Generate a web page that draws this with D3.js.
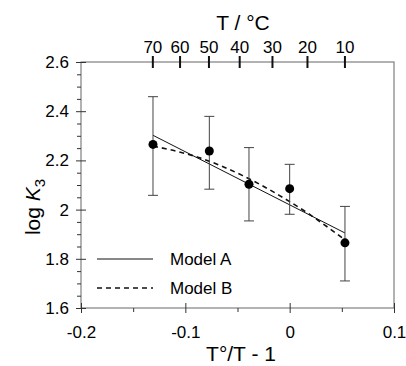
<!DOCTYPE html>
<html>
<head>
<meta charset="utf-8">
<script src="https://cdn.jsdelivr.net/npm/d3@7"></script>
<style>
  body { margin: 0; background: #fff; }
  svg { font-family: "Liberation Sans", Arial, sans-serif; }
</style>
</head>
<body>
<svg id="chart" width="406" height="366"></svg>
<script>
// measured points (x = T°/T - 1)
const pointX = [-0.131, -0.077, -0.039, 0, 0.053];
const logK = [2.265, 2.238, 2.103, 2.085, 1.865];
const errHi = [2.459, 2.379, 2.252, 2.184, 2.013];
const errLo = [2.058, 2.083, 1.954, 1.981, 1.710];

// model curves
const modelA = [[-0.131, 2.302], [0.053, 1.905]];
const modelB = [[-0.131, 2.258], [-0.111, 2.240], [-0.088, 2.213], [-0.045, 2.138], [-0.010, 2.058], [0.0175, 1.985], [0.051, 1.883]];

// axis ticks
const xTicks = [-0.2, -0.1, 0, 0.1];
const xMinor = [-0.15, -0.05, 0.05];
const yTicks = [1.6, 1.8, 2.0, 2.2, 2.4, 2.6];
const yMinor = [1.65, 1.7, 1.75, 1.85, 1.9, 1.95, 2.05, 2.1, 2.15, 2.25, 2.3, 2.35, 2.45, 2.5, 2.55];
const tempTicks = [70, 60, 50, 40, 30, 20, 10];
const T0 = 298.15;

const margin = { top: 62, right: 12, bottom: 58, left: 81 };
const width = 406 - margin.left - margin.right;
const height = 366 - margin.top - margin.bottom;

const svg = d3.select('#chart');
const g = svg.append('g').attr('transform', `translate(${margin.left},${margin.top})`);

const x = d3.scaleLinear().domain([-0.2, 0.1]).range([0, width]);
const y = d3.scaleLinear().domain([1.6, 2.6]).range([height, 0]);

const fmt = d => String(d);

// frame
g.append('rect')
  .attr('width', width).attr('height', height)
  .attr('fill', 'none').attr('stroke', '#666').attr('stroke-width', 1);

function styleAxis(sel) {
  sel.select('.domain').remove();
  sel.selectAll('.tick line').attr('stroke', '#333');
  sel.selectAll('.tick text')
    .attr('fill', '#000')
    .style('font-size', '17px');
}

// left axis
g.append('g')
  .call(d3.axisLeft(y).tickValues(yTicks).tickSize(5).tickPadding(7).tickFormat(fmt))
  .call(styleAxis);
g.append('g')
  .call(d3.axisRight(y).tickValues(yTicks).tickSize(5).tickFormat(''))
  .call(styleAxis);
g.append('g')
  .call(d3.axisLeft(y).tickValues(yMinor).tickSize(4).tickFormat(''))
  .call(styleAxis);

// bottom axis
g.append('g')
  .attr('transform', `translate(0,${height})`)
  .call(d3.axisBottom(x).tickValues(xTicks).tickSize(5).tickPadding(13).tickFormat(fmt))
  .call(styleAxis);
g.append('g')
  .attr('transform', `translate(0,${height})`)
  .call(d3.axisTop(x).tickValues(xTicks).tickSize(5).tickFormat(''))
  .call(styleAxis);
g.append('g')
  .attr('transform', `translate(0,${height})`)
  .call(d3.axisBottom(x).tickValues(xMinor).tickSize(4).tickFormat(''))
  .call(styleAxis);

// top temperature axis
const tempX = t => x(T0 / (t + 273.15) - 1);
const tempAxis = g.append('g');
tempAxis.selectAll('line')
  .data(tempTicks)
  .join('line')
  .attr('x1', tempX).attr('x2', tempX)
  .attr('y1', -6).attr('y2', 6)
  .attr('stroke', '#111').attr('stroke-width', 2);
tempAxis.selectAll('text')
  .data(tempTicks)
  .join('text')
  .attr('x', tempX).attr('y', -9)
  .attr('text-anchor', 'middle')
  .style('font-size', '17px')
  .text(d => d);

svg.append('text')
  .attr('x', 243).attr('y', 30)
  .attr('text-anchor', 'middle')
  .style('font-size', '21px')
  .text('T / °C');

// axis titles
svg.append('text')
  .attr('x', 241).attr('y', 361)
  .attr('text-anchor', 'middle')
  .style('font-size', '21px')
  .text('T°/T - 1');

const yt = svg.append('text')
  .attr('transform', 'translate(40,207) rotate(-90)')
  .attr('text-anchor', 'middle')
  .style('font-size', '21px');
yt.append('tspan').text('log ');
yt.append('tspan').style('font-style', 'italic').text('K');
yt.append('tspan').attr('dy', 5).style('font-size', '15px').text('3');

// model lines
const line = d3.line().x(d => x(d[0])).y(d => y(d[1]));
g.append('path')
  .datum(modelA)
  .attr('d', line)
  .attr('fill', 'none').attr('stroke', '#111').attr('stroke-width', 1);
g.append('path')
  .datum(modelB)
  .attr('d', line.curve(d3.curveMonotoneX))
  .attr('fill', 'none').attr('stroke', '#111').attr('stroke-width', 1.6)
  .attr('stroke-dasharray', '5,4');

// error bars
const idx = d3.range(pointX.length);
const eb = g.append('g').attr('stroke', '#444').attr('stroke-width', 1);
eb.selectAll('line.v')
  .data(idx).join('line').attr('class', 'v')
  .attr('x1', i => x(pointX[i])).attr('x2', i => x(pointX[i]))
  .attr('y1', i => y(errHi[i])).attr('y2', i => y(errLo[i]));
eb.selectAll('line.hi')
  .data(idx).join('line').attr('class', 'hi')
  .attr('x1', i => x(pointX[i]) - 5).attr('x2', i => x(pointX[i]) + 5)
  .attr('y1', i => y(errHi[i])).attr('y2', i => y(errHi[i]));
eb.selectAll('line.lo')
  .data(idx).join('line').attr('class', 'lo')
  .attr('x1', i => x(pointX[i]) - 5).attr('x2', i => x(pointX[i]) + 5)
  .attr('y1', i => y(errLo[i])).attr('y2', i => y(errLo[i]));

// points
g.selectAll('circle')
  .data(idx).join('circle')
  .attr('cx', i => x(pointX[i]))
  .attr('cy', i => y(logK[i]))
  .attr('r', 4.5)
  .attr('fill', '#000');

// legend
const legend = svg.append('g');
const items = [
  { label: 'Model A', dash: null, w: 1, yy: 259 },
  { label: 'Model B', dash: '5,4', w: 1.6, yy: 288 }
];
items.forEach(it => {
  legend.append('line')
    .attr('x1', 97).attr('x2', 153)
    .attr('y1', it.yy).attr('y2', it.yy)
    .attr('stroke', '#111').attr('stroke-width', it.w)
    .attr('stroke-dasharray', it.dash);
  legend.append('text')
    .attr('x', 170).attr('y', it.yy + 6)
    .style('font-size', '17px')
    .text(it.label);
});
</script>
</body>
</html>
